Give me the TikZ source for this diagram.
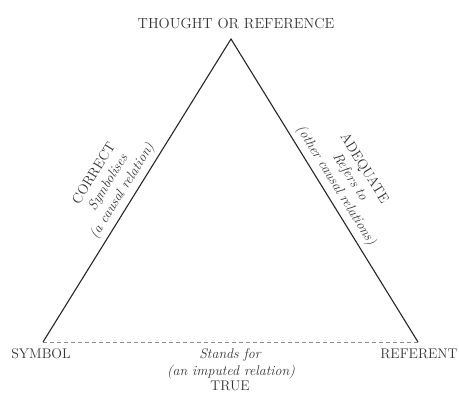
\documentclass[tikz,border=0pt]{standalone}
\usepackage{fontspec}
\begin{document}
\begin{tikzpicture}[x=1pt,y=-1pt,
  caps/.style={font=\fontsize{14}{16}\selectfont, inner sep=0pt, anchor=base},
  ital/.style={font=\fontsize{14}{16}\selectfont\itshape, inner sep=0pt, anchor=base},
  sideblock/.style={font=\fontsize{14}{16.5}\selectfont, inner sep=0pt, align=center},
  side/.style={line width=1.1pt, black!85},
  dashedlink/.style={line width=0.6pt, black!45, dash pattern=on 4pt off 3pt}]
\useasboundingbox (0,0) rectangle (459,392);
\coordinate (tho) at (231,39);
\coordinate (sym) at (43,342);
\coordinate (ref) at (418,342);
\draw[dashedlink] (sym) -- (ref);
\draw[side, line join=miter] (sym) -- (tho) -- (ref);
\node[caps, text=black!80, font=\fontsize{14.6}{16}\selectfont] (thoughtlbl) at (236,28) {THOUGHT OR REFERENCE};
\node[caps, text=black!80] (symlbl) at (41,358) {SYMBOL};
\node[caps, text=black!80] (reflbl) at (419,358) {REFERENT};
\node[ital, text=black!80] (standslbl) at (230,358) {Stands for};
\node[ital, text=black!80] (imputedlbl) at (231,375) {(an imputed relation)};
\node[caps, text=black!80] (truelbl) at (230,390.5) {TRUE};
\node[sideblock, text=black!80, rotate=58.2] (correctlbl) at (108.8,182.7)
  {CORRECT\\ \itshape Symbolises\\ \itshape (a causal relation)};
\node[sideblock, text=black!80, rotate=-58.2] (adequatelbl) at (349.7,177.2)
  {ADEQUATE\\ \itshape Refers to\\ \itshape (other causal relations)};
\end{tikzpicture}
\end{document}
